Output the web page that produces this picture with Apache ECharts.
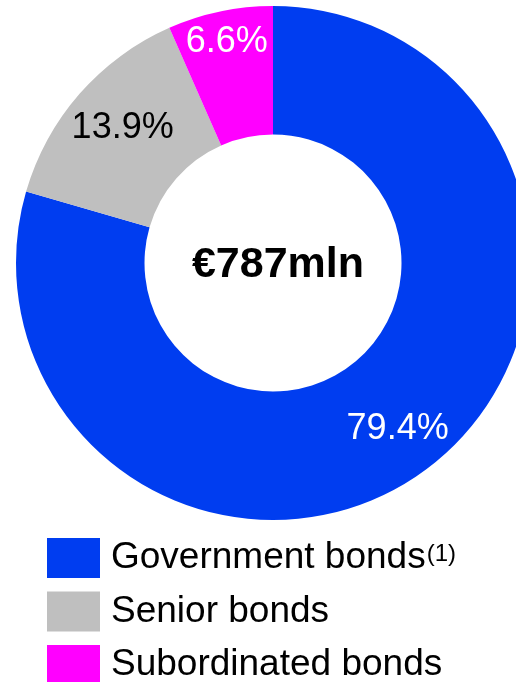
<!DOCTYPE html>
<html>
<head>
<meta charset="utf-8">
<script src="https://cdn.jsdelivr.net/npm/echarts@6/dist/echarts.min.js"></script>
<style>
  html, body { margin: 0; padding: 0; background: #fff; }
  #chart { width: 516px; height: 682px; }
</style>
</head>
<body>
<div id="chart"></div>
<script>
// Bond portfolio breakdown (%)
const categories = ['Government bonds', 'Senior bonds', 'Subordinated bonds'];
const shares = [79.4, 13.9, 6.6];
const totalLabel = '€787mln';

const sliceColors = ['#003DF0', '#BFBFBF', '#FF00FF'];
const labelColors = ['#ffffff', '#000000', '#ffffff'];
const labelOffsets = [[7, 10], [-3, -6], [-6, -29]];

const FONT = '"Liberation Sans", Arial, sans-serif';

const chart = echarts.init(document.getElementById('chart'), null, { renderer: 'canvas' });

chart.setOption({
  animation: false,
  legend: {
    orient: 'vertical',
    left: 47,
    top: 538,
    height: 200,
    padding: 0,
    itemWidth: 53,
    itemHeight: 40,
    itemGap: 13.5,
    icon: 'rect',
    selectedMode: false,
    data: categories,
    formatter: name => name === categories[0]
      ? '{a|' + name + '}{sup|(1)}'
      : '{a|' + name + '}',
    textStyle: {
      padding: [0, 0, 0, 6],
      rich: {
        a: { fontSize: 37, fontFamily: FONT, color: '#000', lineHeight: 40 },
        sup: { fontSize: 24, fontFamily: FONT, color: '#000', lineHeight: 24, padding: [0, 0, 7, 1], verticalAlign: 'middle' }
      }
    }
  },
  graphic: [{
    type: 'text',
    x: 278,
    y: 265,
    style: {
      text: totalLabel,
      fontSize: 43,
      fontWeight: 'bold',
      fontFamily: FONT,
      fill: '#000',
      textAlign: 'center',
      textVerticalAlign: 'middle'
    }
  }],
  series: [{
    type: 'pie',
    center: [273, 263],
    radius: [128.5, 257],
    startAngle: 90,
    clockwise: true,
    avoidLabelOverlap: false,
    labelLine: { show: false },
    emphasis: { disabled: true },
    data: categories.map((name, i) => ({
      name,
      value: shares[i],
      itemStyle: { color: sliceColors[i] },
      label: {
        show: true,
        position: 'inside',
        formatter: shares[i].toFixed(1) + '%',
        fontSize: 36,
        fontFamily: FONT,
        color: labelColors[i],
        offset: labelOffsets[i]
      }
    }))
  }]
});
</script>
</body>
</html>
